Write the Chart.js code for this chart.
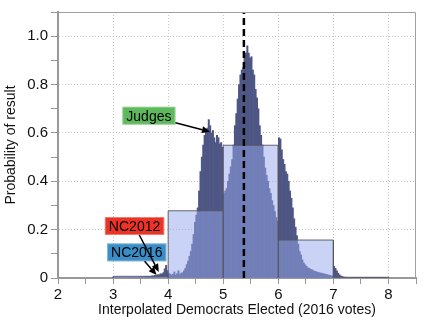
<!DOCTYPE html>
<html>
<head>
<meta charset="utf-8">
<script src="https://cdn.jsdelivr.net/npm/chart.js@4/dist/chart.umd.min.js"></script>
<style>
  html, body { margin: 0; padding: 0; background: #fff; }
</style>
</head>
<body>
<canvas id="seatsChart" width="436" height="325"></canvas>
<script>
// fine histogram, one array per seat count (bins of 0.025 seats)
const binWidth = 0.025;
const seats3 = [0.001, 0.002, 0.001, 0.002, 0.001, 0.002, 0.002, 0.001, 0.002, 0.002,
                0.002, 0.003, 0.002, 0.003, 0.002, 0.003, 0.003, 0.002, 0.004, 0.003,
                0.004, 0.003, 0.005, 0.004, 0.006, 0.005, 0.007, 0.006, 0.009, 0.008,
                0.011, 0.010, 0.014, 0.013, 0.018, 0.016, 0.022, 0.038, 0.052, 0.030];
const seats4 = [0.020, 0.016, 0.012, 0.015, 0.025, 0.012, 0.018, 0.030, 0.014, 0.020,
                0.022, 0.030, 0.040, 0.055, 0.070, 0.090, 0.110, 0.140, 0.180, 0.230,
                0.260, 0.290, 0.360, 0.440, 0.500, 0.550, 0.590, 0.610, 0.620, 0.655,
                0.630, 0.600, 0.610, 0.580, 0.560, 0.590, 0.580, 0.555, 0.560, 0.540];
const seats5 = [0.350, 0.360, 0.370, 0.400, 0.430, 0.460, 0.490, 0.550, 0.630, 0.680,
                0.740, 0.800, 0.840, 0.860, 0.870, 0.910, 0.930, 0.960, 0.930, 0.910,
                0.915, 0.860, 0.840, 0.780, 0.745, 0.700, 0.630, 0.590, 0.550, 0.500,
                0.455, 0.425, 0.400, 0.370, 0.350, 0.320, 0.300, 0.275, 0.250, 0.235];
const seats6 = [0.580, 0.575, 0.530, 0.490, 0.470, 0.440, 0.430, 0.400, 0.360, 0.330,
                0.290, 0.245, 0.210, 0.175, 0.140, 0.110, 0.095, 0.075, 0.062, 0.055,
                0.048, 0.042, 0.040, 0.036, 0.034, 0.030, 0.028, 0.026, 0.024, 0.022,
                0.021, 0.020, 0.018, 0.017, 0.015, 0.014, 0.012, 0.011, 0.009, 0.008];
const seats7 = [0.048, 0.040, 0.030, 0.020, 0.013, 0.008, 0.006, 0.004, 0.003, 0.003,
                0.002, 0.002, 0.002, 0.002, 0.001, 0.002, 0.001, 0.001, 0.001, 0.001,
                0.001, 0.001, 0.001, 0.001, 0.001, 0.001, 0.001, 0.001, 0.001, 0.001,
                0.001, 0.001, 0.001, 0.001, 0.001, 0.001, 0.001, 0.001, 0.001, 0.001];

// whole-seat blocks
const blockStarts = [3, 4, 5, 6, 7];
const blockValues = [0.007, 0.278, 0.549, 0.157, 0.003];

const meanSeats = 5.375;

const font = "'Liberation Sans', Arial, Helvetica, sans-serif";

const histPoints = [seats3, seats4, seats5, seats6, seats7].flatMap((vals, k) =>
    vals.map((v, i) => ({ x: blockStarts[k] + (i + 0.5) * binWidth, y: v })));

const blockPoints = [];
blockStarts.forEach((s, i) => {
    blockPoints.push({ x: s, y: 0 }, { x: s, y: blockValues[i] },
                     { x: s + 1, y: blockValues[i] }, { x: s + 1, y: 0 });
});

const callouts = [
    { text: 'Judges', bg: 'rgb(94,184,92)', at: [3.65, 0.671], tip: [4.76, 0.605] },
    { text: 'NC2016', bg: 'rgb(58,142,200)', at: [3.43, 0.106], tip: [3.79, 0.012] },
    { text: 'NC2012', bg: 'rgb(236,52,38)', at: [3.39, 0.215], tip: [3.83, 0.025] }
];

const decorations = {
    id: 'decorations',
    afterDatasetsDraw(chart) {
        const { ctx, chartArea: a, scales: { x, y } } = chart;
        ctx.save();
        ctx.strokeStyle = '#a0a0a0';
        ctx.lineWidth = 1;
        ctx.beginPath();
        ctx.moveTo(a.left, a.top + 0.5);
        ctx.lineTo(a.right - 0.5, a.top + 0.5);
        ctx.lineTo(a.right - 0.5, a.bottom);
        ctx.stroke();

        ctx.font = '14px ' + font;
        ctx.textAlign = 'center';
        ctx.textBaseline = 'middle';
        const boxes = callouts.map(c => {
            const cx = x.getPixelForValue(c.at[0]);
            const cy = y.getPixelForValue(c.at[1]);
            const hw = ctx.measureText(c.text).width / 2 + 4;
            const hh = 9;
            return { c, cx, cy, hw, hh };
        });
        boxes.forEach(b => {
            ctx.fillStyle = b.c.bg;
            ctx.fillRect(b.cx - b.hw, b.cy - b.hh, b.hw * 2, b.hh * 2);
            ctx.strokeStyle = 'rgba(255,255,255,0.35)';
            ctx.strokeRect(b.cx - b.hw + 0.5, b.cy - b.hh + 0.5, b.hw * 2 - 1, b.hh * 2 - 1);
            ctx.fillStyle = '#000';
            ctx.fillText(b.c.text, b.cx, b.cy + 1);
        });
        boxes.forEach(b => {
            const tx = x.getPixelForValue(b.c.tip[0]);
            const ty = y.getPixelForValue(b.c.tip[1]);
            const dx = tx - b.cx, dy = ty - b.cy;
            const s = Math.min(b.hw / Math.abs(dx || 1e-6), b.hh / Math.abs(dy || 1e-6));
            const sx = b.cx + dx * s, sy = b.cy + dy * s;
            const ang = Math.atan2(ty - sy, tx - sx);
            const hl = 8, hw2 = 3.5;
            const bx = tx - hl * Math.cos(ang), by = ty - hl * Math.sin(ang);
            ctx.strokeStyle = '#000';
            ctx.lineWidth = 1.5;
            ctx.beginPath();
            ctx.moveTo(sx, sy);
            ctx.lineTo(bx, by);
            ctx.stroke();
            ctx.fillStyle = '#000';
            ctx.beginPath();
            ctx.moveTo(tx, ty);
            ctx.lineTo(bx + hw2 * Math.sin(ang), by - hw2 * Math.cos(ang));
            ctx.lineTo(bx - hw2 * Math.sin(ang), by + hw2 * Math.cos(ang));
            ctx.closePath();
            ctx.fill();
        });
        ctx.restore();
    }
};

new Chart(document.getElementById('seatsChart'), {
    type: 'bar',
    data: {
        datasets: [{
            type: 'line',
            data: [{ x: meanSeats, y: 0 }, { x: meanSeats, y: 1.1 }],
            borderColor: '#000',
            borderWidth: 2.5,
            borderDash: [7, 4],
            pointRadius: 0,
            order: 0
        }, {
            type: 'line',
            data: blockPoints,
            fill: 'origin',
            backgroundColor: 'rgba(150,168,235,0.5)',
            borderColor: 'rgba(85,85,95,0.9)',
            borderWidth: 1,
            pointRadius: 0,
            order: 1
        }, {
            type: 'bar',
            data: histPoints,
            backgroundColor: 'rgb(78,86,132)',
            barPercentage: 1,
            categoryPercentage: 1,
            grouped: false,
            order: 2
        }]
    },
    options: {
        responsive: false,
        animation: false,
        layout: { padding: { top: 12, right: 20 } },
        plugins: { legend: { display: false }, tooltip: { enabled: false } },
        scales: {
            x: {
                type: 'linear',
                min: 2, max: 8.5,
                offset: false,
                ticks: {
                    stepSize: 0.5, autoSkip: false, maxRotation: 0, padding: 2,
                    color: '#111', font: { family: font, size: 15 },
                    callback: v => Number.isInteger(v) ? String(v) : ''
                },
                grid: {
                    offset: false,
                    color: c => Number.isInteger(c.tick.value) && c.tick.value > 2 ? '#c4c4c4' : 'rgba(0,0,0,0)',
                    tickColor: '#999', tickLength: 6
                },
                border: { color: '#999', width: 2, dash: [1, 2] },
                title: {
                    display: true, text: 'Interpolated Democrats Elected (2016 votes)',
                    color: '#111', font: { family: font, size: 14 }, padding: { top: 0, bottom: 6 }
                },
                afterFit: s => { s.height = 47; }
            },
            y: {
                min: 0, max: 1.1,
                ticks: {
                    stepSize: 0.1, autoSkip: false, padding: 3,
                    color: '#111', font: { family: font, size: 15 },
                    callback: (v, i) => i % 2 ? '' : (v === 0 ? '0' : v.toFixed(1))
                },
                grid: {
                    color: c => c.index % 2 === 0 && c.index > 0 ? '#c4c4c4' : 'rgba(0,0,0,0)',
                    tickColor: '#999', tickLength: 7
                },
                border: { color: '#999', width: 2, dash: [1, 2] },
                title: {
                    display: true, text: 'Probability of result',
                    color: '#111', font: { family: font, size: 14 }, padding: { top: 3, bottom: 0 }
                },
                afterFit: s => { s.width = 58; }
            }
        }
    },
    plugins: [decorations]
});
</script>
</body>
</html>
